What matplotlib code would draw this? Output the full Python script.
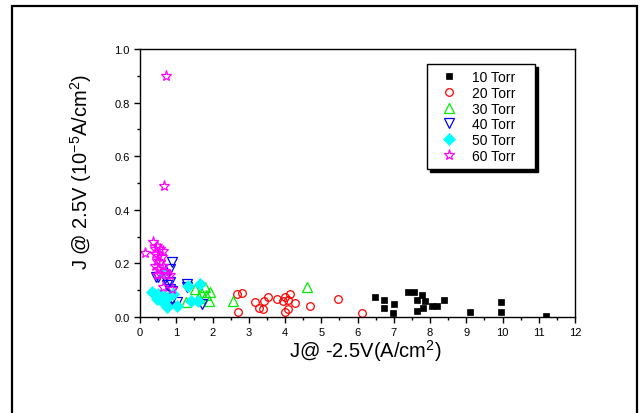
import matplotlib
matplotlib.use("Agg")
import matplotlib.pyplot as plt
from matplotlib.patches import Rectangle
from matplotlib.ticker import MultipleLocator, FormatStrFormatter

plt.rcParams['font.family'] = ['Liberation Sans', 'DejaVu Sans']
plt.rcParams['mathtext.fontset'] = 'custom'
plt.rcParams['mathtext.rm'] = 'Liberation Sans'
plt.rcParams['mathtext.it'] = 'Liberation Sans:italic'
plt.rcParams['mathtext.bf'] = 'Liberation Sans:bold'

# J at -2.5 V (x) and J at 2.5 V (y) for each deposition pressure
labels = ["10 Torr", "20 Torr", "30 Torr", "40 Torr", "50 Torr", "60 Torr"]

x10 = [6.48, 6.74, 7.02, 6.74, 6.97, 7.40, 7.56, 7.77, 7.63, 7.85, 7.65, 7.81,
       8.06, 8.18, 8.39, 9.10, 9.96, 9.96, 11.2]
y10 = [0.076, 0.065, 0.047, 0.034, 0.016, 0.095, 0.095, 0.083, 0.065, 0.061,
       0.021, 0.032, 0.041, 0.041, 0.063, 0.020, 0.057, 0.018, 0.005]

x20 = [2.67, 2.80, 2.71, 3.17, 3.29, 3.40, 3.43, 3.54, 3.77, 3.94, 4.00, 4.07,
       4.14, 4.28, 4.00, 4.07, 4.69, 5.45, 6.12]
y20 = [0.086, 0.090, 0.020, 0.057, 0.034, 0.028, 0.061, 0.074, 0.067, 0.061,
       0.076, 0.063, 0.086, 0.052, 0.020, 0.029, 0.040, 0.067, 0.015]

x30 = [1.27, 1.52, 1.67, 1.79, 1.93, 1.91, 1.64, 1.82, 2.57, 4.60]
y30 = [0.055, 0.104, 0.095, 0.111, 0.095, 0.061, 0.070, 0.082, 0.061, 0.111]

x40 = [0.87, 0.83, 0.51, 0.69, 0.83, 0.74, 0.83, 0.87, 1.01, 0.74, 1.29, 1.29,
       1.70, 0.87, 0.44]
y40 = [0.204, 0.179, 0.148, 0.144, 0.132, 0.119, 0.104, 0.067, 0.057, 0.036,
       0.123, 0.111, 0.049, 0.098, 0.150]

x50 = [0.32, 0.51, 0.55, 0.64, 0.60, 0.69, 0.74, 0.64, 1.01, 1.33, 1.42, 1.66,
       1.61, 0.46, 0.78, 0.92]
y50 = [0.095, 0.086, 0.073, 0.080, 0.061, 0.049, 0.036, 0.167, 0.040, 0.117,
       0.061, 0.123, 0.061, 0.067, 0.073, 0.086]

x60 = [0.72, 0.67, 0.14, 0.37, 0.46, 0.55, 0.41, 0.64, 0.41, 0.51, 0.60, 0.46,
       0.55, 0.41, 0.64, 0.51, 0.69, 0.55, 0.74, 0.83, 0.64, 0.87, 0.46]
y60 = [0.898, 0.488, 0.238, 0.279, 0.266, 0.254, 0.254, 0.247, 0.235, 0.229,
       0.223, 0.210, 0.204, 0.191, 0.191, 0.179, 0.173, 0.160, 0.155, 0.155,
       0.111, 0.104, 0.155]

xs = [x10, x20, x30, x40, x50, x60]
ys = [y10, y20, y30, y40, y50, y60]

styles = [
    dict(marker='s', ms=5.0, mfc='black', mec='black', mew=0.5),
    dict(marker='o', ms=5.5, mfc='none', mec='#ff0000', mew=0.9),
    dict(marker='^', ms=6.5, mfc='none', mec='#00ee00', mew=0.9),
    dict(marker='v', ms=6.5, mfc='none', mec='#0000ff', mew=0.9),
    dict(marker='D', ms=6.0, mfc='#00ffff', mec='#00ffff', mew=0.5),
    dict(marker='*', ms=8.0, mfc='none', mec='#ff00ff', mew=0.9),
]

W, H = 640, 414
fig = plt.figure(figsize=(W / 100, H / 100), dpi=100)
fig.patch.set_facecolor('white')

# outer frame around the whole graph page
fig.patches.append(Rectangle((12 / W, -10 / H), 625 / W, (H - 7 + 10) / H,
                             transform=fig.transFigure, fill=False,
                             edgecolor='black', linewidth=1.6))

ax = fig.add_axes([140 / W, (H - 318) / H, 435 / W, 268 / H])
for x, y, lab, st in zip(xs, ys, labels, styles):
    ax.plot(x, y, linestyle='none', label=lab, **st)

ax.set_xlim(0, 12)
ax.set_ylim(0, 1.0)
ax.xaxis.set_major_locator(MultipleLocator(1))
ax.xaxis.set_minor_locator(MultipleLocator(0.5))
ax.yaxis.set_major_locator(MultipleLocator(0.2))
ax.yaxis.set_minor_locator(MultipleLocator(0.1))
ax.yaxis.set_major_formatter(FormatStrFormatter('%.1f'))
ax.xaxis.set_major_formatter(FormatStrFormatter('%d'))
ax.tick_params(which='both', direction='out', top=False, right=False,
               width=1.0, labelsize=8, colors='black')
ax.tick_params(which='major', length=4.5, pad=3)
ax.tick_params(which='minor', length=2.5)
for sp in ax.spines.values():
    sp.set_linewidth(1.0)

leg = ax.legend(loc='upper left', bbox_to_anchor=(427 / W, (H - 65) / H, 108 / W, 0.0),
                bbox_transform=fig.transFigure, mode='expand', borderaxespad=0,
                frameon=True, fancybox=False, framealpha=1,
                shadow={'color': 'black', 'alpha': 1.0},
                edgecolor='black', fontsize=10, borderpad=0.45,
                handlelength=2.3, handletextpad=0.5, labelspacing=0.12)
leg.get_frame().set_linewidth(1.0)

# axis titles
fig.text(365 / W, (H - 358) / H, "J@ -2.5V(A/cm$^2$)", ha='center',
         va='baseline', fontsize=14.5)
fig.text(88 / W, (H - 172) / H, "J @ 2.5V (10$^{-5}$A/cm$^2$)", rotation=90,
         rotation_mode='anchor', ha='center', va='baseline', fontsize=14.5)

fig.savefig("out.png", dpi=100, facecolor='white')
